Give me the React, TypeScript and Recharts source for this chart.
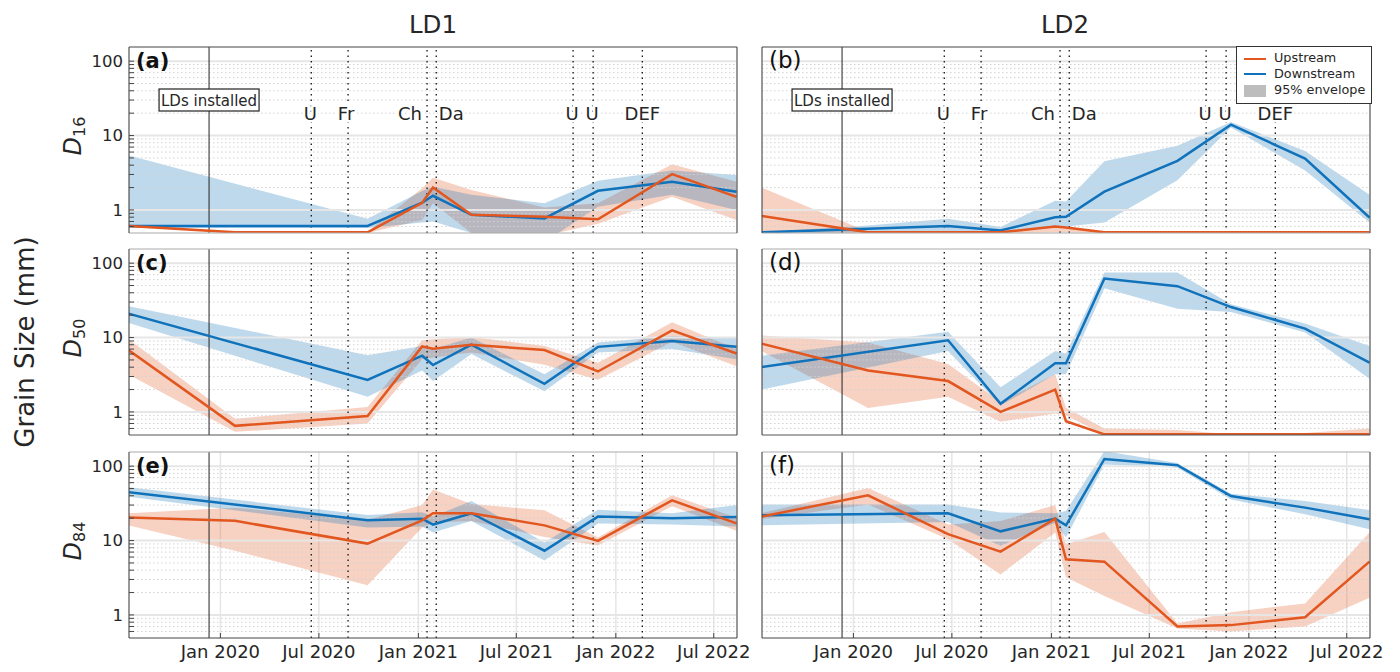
import { ComposedChart, Line, Area, XAxis, YAxis, CartesianGrid, ReferenceLine } from 'recharts';

// sampling dates, LD2 has one extra campaign in June 2020
const datesLD1 = ['2019-07-15', '2020-01-28', '2020-09-29', '2021-01-08', '2021-01-28', '2021-04-09', '2021-08-22', '2021-11-29', '2022-04-15', '2022-08-12'];
const datesLD2 = ['2019-07-15', '2020-01-28', '2020-06-24', '2020-09-29', '2021-01-08', '2021-01-28', '2021-04-09', '2021-08-22', '2021-11-29', '2022-04-15', '2022-08-12'];

// (a) LD1 D16
const aUp = [0.61, 0.5, 0.5, 1.25, 2.0, 0.86, 0.81, 0.75, 3.03, 1.5];
const aUpHi = [0.63, 0.51, 0.51, 1.95, 2.7, 1.85, 1.08, 1.23, 4.1, 2.4];
const aUpLo = [0.6, 0.49, 0.49, 0.73, 1.23, 0.49, 0.45, 0.65, 1.5, 0.73];
const aDown = [0.61, null, 0.61, 1.25, 1.55, 0.86, 0.77, 1.81, 2.4, 1.76];
const aDownHi = [5.4, null, 0.76, 1.8, 2.05, 1.6, 1.23, 2.47, 3.4, 2.95];
const aDownLo = [0.57, null, 0.57, 0.68, 0.7, 0.49, 0.37, 1.1, 1.6, 1.0];

// (b) LD2 D16
const bUp = [0.83, 0.5, 0.5, 0.5, 0.6, 0.58, 0.5, 0.5, 0.5, 0.5, 0.5];
const bUpHi = [2.0, 0.51, 0.5, 0.5, 0.62, 0.6, 0.5, 0.5, 0.5, 0.5, 0.5];
const bUpLo = [0.5, 0.49, 0.49, 0.49, 0.5, 0.5, 0.49, 0.49, 0.49, 0.49, 0.49];
const bDown = [0.5, 0.56, 0.61, 0.53, 0.8, 0.81, 1.76, 4.57, 14, 4.9, 0.79];
const bDownHi = [0.5, 0.62, 0.76, 0.59, 1.33, 1.3, 4.5, 7.3, 15.2, 6.2, 1.6];
const bDownLo = [0.48, 0.5, 0.5, 0.5, 0.6, 0.6, 0.68, 2.5, 12.8, 3.4, 0.68];

// (c) LD1 D50
const cUp = [6.8, 0.65, 0.88, 7.6, 7.1, 8, 6.8, 3.5, 12.5, 6.1];
const cUpHi = [9.5, 0.81, 1.17, 9.2, 9.5, 10.2, 7.7, 4.6, 16, 7];
const cUpLo = [3.2, 0.54, 0.7, 5.1, 5.4, 6.3, 4.3, 2.7, 8.8, 4.1];
const cDown = [21, null, 2.7, 5.7, 4.27, 8, 2.39, 7.5, 9, 7.5];
const cDownHi = [26.5, null, 5.8, 7.7, 7, 10, 3.2, 8.6, 10.5, 10];
const cDownLo = [15.8, null, 1.6, 3.6, 2.6, 6, 1.9, 6.3, 7, 5.1];

// (d) LD2 D50
const dUp = [8.3, 3.6, 2.6, 1, 2, 0.75, 0.5, 0.5, 0.5, 0.5, 0.5];
const dUpHi = [10.7, 8.6, 4.4, 1.36, 3.2, 1.14, 0.6, 0.57, 0.5, 0.52, 0.6];
const dUpLo = [6.6, 1.13, 1.6, 0.74, 0.95, 0.9, 0.49, 0.49, 0.49, 0.49, 0.49];
const dDown = [4, null, 9.2, 1.29, 4.5, 4.5, 62, 49, 25.7, 13.2, 4.6];
const dDownHi = [5.7, null, 12, 2.15, 6.6, 6.1, 75, 75, 28, 15.4, 7.7];
const dDownLo = [2, null, 6.6, 1.22, 3.2, 3.2, 46, 24.3, 22, 11.7, 2.8];

// (e) LD1 D84
const eUp = [20.4, 18.4, 9.1, 18.7, 23.3, 23.3, 16, 9.9, 34.7, 17];
const eUpHi = [23.3, 27.7, 19, 30, 48.7, 31, 25.5, 11, 40.6, 20.3];
const eUpLo = [16, 7.3, 2.5, 15, 17.5, 18.3, 11.2, 8.6, 29, 13.5];
const eDown = [44.8, null, 18.8, 19.7, 16.4, 23.3, 7.3, 21, 20, 20.8];
const eDownHi = [52, null, 22, 24, 21, 34, 9.4, 26, 23.3, 30];
const eDownLo = [39, null, 15, 15.4, 12.8, 18.3, 5.4, 17, 16.5, 15.4];

// (f) LD2 D84
const fUp = [21, 40.6, 12.2, 7.1, 19.7, 5.6, 5.2, 0.7, 0.73, 0.93, 5.2];
const fUpHi = [23.3, 51, 16.5, 18.3, 30, 8.9, 13, 0.77, 1.09, 1.43, 12.8];
const fUpLo = [19.3, 30.6, 10.4, 3.5, 12.8, 3.2, 1.8, 0.66, 0.6, 0.7, 1.7];
const fDown = [21.8, null, 23.3, 13.3, 19.7, 16, 125, 103, 39.6, 27.7, 19.3];
const fDownHi = [30.6, null, 30.6, 23.8, 23.3, 25, 159, 110, 42.6, 34, 25.7];
const fDownLo = [16, null, 17.8, 8.5, 17.4, 11, 105, 95, 35.7, 22.5, 14.2];

// field campaigns / events
const installDate = '2019-12-11';
const eventDates = ['2020-06-17', '2020-08-24', '2021-01-17', '2021-02-03', '2021-10-14', '2021-11-20', '2022-02-19'];
const eventLabels = ['U', 'Fr', 'Ch', 'Da', 'U', 'U', 'DEF'];
const eventLabelShift = [-1, -2, -17, 15, -1, -1, 0];

const monthTicks = ['2020-01-01', '2020-07-01', '2021-01-01', '2021-07-01', '2022-01-01', '2022-07-01'];
const monthLabels = ['Jan 2020', 'Jul 2020', 'Jan 2021', 'Jul 2021', 'Jan 2022', 'Jul 2022'];
const majorValues = [1, 10, 100];
const minorValues = [0.6, 0.7, 0.8, 0.9, 2, 3, 4, 5, 6, 7, 8, 9, 20, 30, 40, 50, 60, 70, 80, 90];
const legendItems = ['Upstream', 'Downstream', '95% envelope'];

const ORANGE = '#E2561F';
const BLUE = '#0F72BA';
const TXT = '#262626';
const FONT = '"DejaVu Sans", sans-serif';
const PLOT_W = 608;
const PLOT_H = 186;
// a bit under 0.5 so the floor line at 0.5 is not cut in half
const Y_DOMAIN: [number, number] = [0.49, 155];

const toDays = (d: string) => Date.parse(d + 'T00:00:00Z') / 86400000;
const X_DOMAIN: [number, number] = [toDays('2019-07-16'), toDays('2022-08-13')];
const xTicks = monthTicks.map(toDays);
const yTicks = [...majorValues, ...minorValues];

function buildRows(dates: string[], up: number[], upHi: number[], upLo: number[], down: (number | null)[], downHi: (number | null)[], downLo: (number | null)[]) {
  return dates.map((d, i) => ({
    t: toDays(d),
    up: up[i],
    upBand: [upLo[i], upHi[i]],
    down: down[i],
    downBand: downLo[i] == null ? null : [downLo[i], downHi[i]],
  }));
}

// texts sit on a white halo, the dotted line stops behind them
function EventText({ viewBox, text, dx }: any) {
  return (
    <text
      x={viewBox.x + dx}
      y={viewBox.y + 73}
      textAnchor="middle"
      fontFamily={FONT}
      fontSize={18}
      fill={TXT}
      stroke="#fff"
      strokeWidth={5}
      paintOrder="stroke"
    >
      {text}
    </text>
  );
}

function InstallBox({ viewBox }: any) {
  return (
    <g>
      <rect x={viewBox.x - 50} y={viewBox.y + 42} width={100} height={22} fill="#fff" stroke="#222" strokeWidth={1.2} />
      <text x={viewBox.x} y={viewBox.y + 58.5} textAnchor="middle" fontFamily={FONT} fontSize={15} fill={TXT}>
        LDs installed
      </text>
    </g>
  );
}

interface PanelProps {
  left: number;
  top: number;
  rows: ReturnType<typeof buildRows>;
  letter: string;
  sub?: string;
  showY: boolean;
  showX: boolean;
  showEvents: boolean;
  topStroke: string;
  bottomStroke: string;
}

function Panel({ left, top, rows, letter, sub, showY, showX, showEvents, topStroke, bottomStroke }: PanelProps) {
  return (
    <>
      <div style={{ position: 'absolute', left: left - 60, top: top - 1 }}>
        <ComposedChart width={60 + PLOT_W + 1 + 30} height={1 + PLOT_H + 30} data={rows} margin={{ top: 0, right: 30, bottom: 0, left: 0 }}>
          <CartesianGrid horizontal={false} stroke="#e6e6e6" strokeWidth={1.5} />
          {minorValues.map((v) => (
            <ReferenceLine key={v} y={v} stroke="#d2d2d2" strokeWidth={1} strokeDasharray="1.5 2.5" />
          ))}
          {majorValues.map((v) => (
            <ReferenceLine key={v} y={v} stroke="#e6e6e6" strokeWidth={2} />
          ))}
          <XAxis
            dataKey="t"
            type="number"
            domain={X_DOMAIN}
            allowDataOverflow
            ticks={xTicks}
            interval={0}
            height={30}
            stroke={bottomStroke}
            tickSize={-5}
            tickMargin={12}
            tick={showX ? { fill: TXT, fontSize: 18, fontFamily: FONT } : false}
            tickFormatter={(v: number) => monthLabels[xTicks.indexOf(v)]}
          />
          <XAxis xAxisId="top" orientation="top" dataKey="t" type="number" domain={X_DOMAIN} allowDataOverflow ticks={xTicks} interval={0} height={1} stroke={topStroke} tickSize={-5} tick={false} />
          <YAxis
            type="number"
            scale="log"
            domain={Y_DOMAIN}
            allowDataOverflow
            ticks={yTicks}
            interval={0}
            width={60}
            stroke="#444"
            tickSize={-5}
            tickMargin={11}
            tick={showY ? { fill: TXT, fontSize: 16.5, fontFamily: FONT } : false}
            tickFormatter={(v: number) => (majorValues.includes(v) ? String(v) : '')}
          />
          <YAxis yAxisId="right" orientation="right" type="number" scale="log" domain={Y_DOMAIN} allowDataOverflow ticks={yTicks} interval={0} width={1} stroke="#444" tickSize={-5} tick={false} />
          <Area dataKey="upBand" stroke="none" fill={ORANGE} fillOpacity={0.27} connectNulls isAnimationActive={false} />
          <Area dataKey="downBand" stroke="none" fill={BLUE} fillOpacity={0.27} connectNulls isAnimationActive={false} />
          <ReferenceLine x={toDays(installDate)} stroke="#222" strokeWidth={1} label={showEvents ? <InstallBox /> : undefined} />
          {eventDates.map((d, i) => (
            <ReferenceLine
              key={d}
              x={toDays(d)}
              stroke="#111"
              strokeWidth={1.3}
              strokeDasharray="1.5 4"
              label={showEvents ? <EventText text={eventLabels[i]} dx={eventLabelShift[i]} /> : undefined}
            />
          ))}
          <Line dataKey="down" stroke={BLUE} strokeWidth={2.5} dot={false} connectNulls isAnimationActive={false} />
          <Line dataKey="up" stroke={ORANGE} strokeWidth={2.5} dot={false} connectNulls isAnimationActive={false} />
        </ComposedChart>
      </div>
      <div
        style={{
          position: 'absolute',
          left: left + 7,
          top: top + (showY ? 2 : 0),
          fontFamily: FONT,
          fontWeight: showY ? 'bold' : 'normal',
          fontSize: showY ? 21 : 23,
          color: '#111',
        }}
      >
        {letter}
      </div>
      {sub && (
        <div
          style={{
            position: 'absolute',
            left: 44,
            top: top + 74,
            width: 60,
            textAlign: 'center',
            transform: 'rotate(-90deg)',
            fontFamily: FONT,
            fontSize: 24,
            color: TXT,
            whiteSpace: 'nowrap',
          }}
        >
          <i>D</i>
          <span style={{ fontSize: 16, verticalAlign: -4 }}>{sub}</span>
        </div>
      )}
    </>
  );
}

function LegendBox() {
  return (
    <div style={{ position: 'absolute', left: 1236, top: 46, width: 134, height: 56, background: '#fff', border: '1px solid #333', fontFamily: FONT, fontSize: 12.8, color: TXT }}>
      {legendItems.map((name, i) => (
        <div key={name} style={{ position: 'absolute', left: 37, top: 3 + i * 16, whiteSpace: 'nowrap' }}>
          {name}
        </div>
      ))}
      <div style={{ position: 'absolute', left: 7, top: 11, width: 22, height: 2, background: ORANGE }} />
      <div style={{ position: 'absolute', left: 7, top: 26, width: 22, height: 2, background: BLUE }} />
      <div style={{ position: 'absolute', left: 7, top: 38, width: 22, height: 12, background: '#bdbdbd' }} />
    </div>
  );
}

export default function App() {
  return (
    <div style={{ position: 'absolute', left: 0, top: 0, width: 1400, height: 672, background: '#fff', overflow: 'hidden' }}>
      <div style={{ position: 'absolute', left: 129, width: PLOT_W, top: 10, textAlign: 'center', fontFamily: FONT, fontSize: 24.5, color: TXT }}>LD1</div>
      <div style={{ position: 'absolute', left: 761, width: PLOT_W, top: 10, textAlign: 'center', fontFamily: FONT, fontSize: 24.5, color: TXT }}>LD2</div>
      <div
        style={{
          position: 'absolute',
          left: -85,
          top: 327,
          width: 220,
          textAlign: 'center',
          transform: 'rotate(-90deg)',
          fontFamily: FONT,
          fontSize: 26,
          color: TXT,
          whiteSpace: 'nowrap',
        }}
      >
        Grain Size (mm)
      </div>
      <Panel left={129} top={46.5} letter="(a)" sub="16" showY showX={false} showEvents topStroke="#444" bottomStroke="#aaa" rows={buildRows(datesLD1, aUp, aUpHi, aUpLo, aDown, aDownHi, aDownLo)} />
      <Panel left={762} top={46.5} letter="(b)" showY={false} showX={false} showEvents topStroke="#444" bottomStroke="#aaa" rows={buildRows(datesLD2, bUp, bUpHi, bUpLo, bDown, bDownHi, bDownLo)} />
      <Panel left={129} top={249} letter="(c)" sub="50" showY showX={false} showEvents={false} topStroke="#aaa" bottomStroke="#555" rows={buildRows(datesLD1, cUp, cUpHi, cUpLo, cDown, cDownHi, cDownLo)} />
      <Panel left={762} top={249} letter="(d)" showY={false} showX={false} showEvents={false} topStroke="#aaa" bottomStroke="#555" rows={buildRows(datesLD2, dUp, dUpHi, dUpLo, dDown, dDownHi, dDownLo)} />
      <Panel left={129} top={452} letter="(e)" sub="84" showY showX showEvents={false} topStroke="#aaa" bottomStroke="#444" rows={buildRows(datesLD1, eUp, eUpHi, eUpLo, eDown, eDownHi, eDownLo)} />
      <Panel left={762} top={452} letter="(f)" showY={false} showX showEvents={false} topStroke="#aaa" bottomStroke="#444" rows={buildRows(datesLD2, fUp, fUpHi, fUpLo, fDown, fDownHi, fDownLo)} />
      <LegendBox />
    </div>
  );
}
